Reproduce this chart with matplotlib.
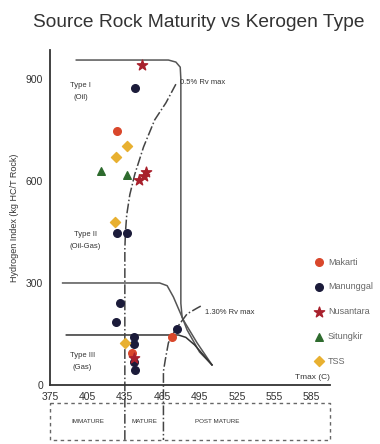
import matplotlib.pyplot as plt

plt.rcParams['font.family'] = ['Liberation Sans', 'DejaVu Sans']

# sample points (Tmax in C, Hydrogen Index in kg HC/T Rock)
makar_t = [429, 473, 441]
makar_hi = [747, 141, 95]
manun_t = [443, 428.5, 437, 431.5, 427.5, 477, 442, 442, 442, 443.5]
manun_hi = [873, 447, 447, 241, 185, 165, 141, 121, 68, 44]
nusan_t = [448.5, 446, 450, 452, 442]
nusan_hi = [941, 603, 615, 626, 80]
situng_t = [415.5, 436.5]
situng_hi = [629, 618]
tss_t = [437, 427.5, 427, 435.5]
tss_hi = [703, 670, 479, 124]

# kerogen type boundaries
type1_t = [396, 470, 476, 479.5, 480, 480, 481, 485, 495, 505]
type1_hi = [956, 956, 950, 935, 900, 240, 200, 162, 97, 59]
type2_t = [385, 463, 469, 474, 482, 493, 505]
type2_hi = [300, 300, 292, 259, 191, 124, 59]
type3_t = [388, 478, 484, 491, 505]
type3_hi = [147, 147, 140, 118, 59]

# vitrinite reflectance lines
rv05_t = [476, 468, 459, 450, 443, 439, 436.5, 435.5, 435, 435]
rv05_hi = [885, 830, 780, 700, 620, 560, 500, 450, 400, -162]
rv13_t = [496, 493, 485, 475.5, 470, 467.5, 466, 466]
rv13_hi = [232, 226, 209, 162, 124, 74, 40, -162]

fig = plt.figure(figsize=(3.8, 4.44), dpi=100)
ax = fig.add_axes([0.132, 0.133, 0.737, 0.754])

line_c = '#555555'
ax.plot(type1_t, type1_hi, color=line_c, lw=1.1)
ax.plot(type2_t, type2_hi, color=line_c, lw=1.1)
ax.plot(type3_t, type3_hi, color='#333333', lw=1.1)
ax.plot(rv05_t, rv05_hi, color='#444444', lw=1.1, ls='-.', clip_on=False)
ax.plot(rv13_t, rv13_hi, color='#444444', lw=1.1, ls='-.', clip_on=False)

ax.scatter(makar_t, makar_hi, s=30, marker='o', color='#d9472b', label='Makarti', zorder=3)
ax.scatter(manun_t, manun_hi, s=30, marker='o', color='#1b1b3a', label='Manunggal', zorder=3)
ax.scatter(nusan_t, nusan_hi, s=60, marker='*', color='#a8202c', label='Nusantara', zorder=3)
ax.scatter(situng_t, situng_hi, s=30, marker='^', color='#2e6b2e', label='Situngkir', zorder=3)
ax.scatter(tss_t, tss_hi, s=26, marker='D', color='#e8b030', label='TSS', zorder=3)

ax.set_xlim(375, 600)
ax.set_ylim(0, 985)
ax.set_xticks([375, 405, 435, 465, 495, 525, 555, 585])
ax.set_yticks([0, 300, 600, 900])
ax.tick_params(length=0, labelsize=7.5, colors='#333333')
ax.tick_params(axis='x', pad=5)
ax.tick_params(axis='y', pad=5)
for s in ['top', 'right']:
    ax.spines[s].set_visible(False)
for s in ['left', 'bottom']:
    ax.spines[s].set_color('#333333')
    ax.spines[s].set_linewidth(1.3)

ax.set_ylabel('Hydrogen Index (kg HC/T Rock)', fontsize=6.5, color='#333333', labelpad=5)
ax.text(1.0, 0.012, 'Tmax (C)', transform=ax.transAxes, ha='right', va='bottom',
        fontsize=6, color='#333333')

ax.text(399.5, 878, 'Type I', fontsize=5.5, ha='center', color='#333333')
ax.text(399.5, 840, '(Oil)', fontsize=5.5, ha='center', color='#333333')
ax.text(403, 438, 'Type II', fontsize=5.5, ha='center', color='#333333')
ax.text(403, 402, '(Oil-Gas)', fontsize=5.5, ha='center', color='#333333')
ax.text(401, 83, 'Type III', fontsize=5.5, ha='center', color='#333333')
ax.text(401, 47, '(Gas)', fontsize=5.5, ha='center', color='#333333')
ax.text(479.5, 884, '0.5% Rv max', fontsize=5.5, color='#333333')
ax.text(499, 210, '1.30% Rv max', fontsize=5.5, color='#333333')

# maturity box below the axis
box_c = '#666666'
ax.plot([375, 600, 600, 375, 375], [-53, -53, -162, -162, -53], color=box_c,
        lw=1.0, ls=(0, (2.5, 2.5)), clip_on=False)
ax.text(405, -108, 'IMMATURE', fontsize=4.5, ha='center', va='center', color='#333333')
ax.text(450.5, -108, 'MATURE', fontsize=4.5, ha='center', va='center', color='#333333')
ax.text(509, -108, 'POST MATURE', fontsize=4.5, ha='center', va='center', color='#333333')

ax.legend(loc='upper left', bbox_to_anchor=(0.805, 0.428), bbox_transform=fig.transFigure,
          frameon=False, fontsize=6.5, labelspacing=1.75, handletextpad=0.05,
          borderaxespad=0, markerscale=1.0, labelcolor='#666666')

fig.text(0.087, 0.95, 'Source Rock Maturity vs Kerogen Type', fontsize=13.8,
         color='#333333', va='center')

plt.savefig('out.png', dpi=100)
